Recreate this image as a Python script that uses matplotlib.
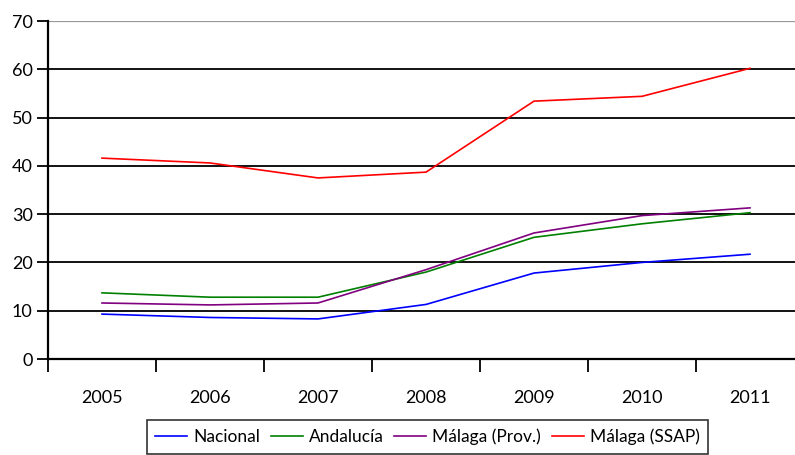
import matplotlib
matplotlib.use('Agg')

import matplotlib.pyplot as plt
import numpy as np

years = ['2005', '2006', '2007', '2008', '2009', '2010', '2011']

nacional = [9.3, 8.6, 8.3, 11.3, 17.8, 20.0, 21.7]
andalucia = [13.7, 12.8, 12.8, 18.0, 25.2, 28.0, 30.3]
malaga_prov = [11.6, 11.2, 11.6, 18.5, 26.1, 29.7, 31.3]
malaga_ssap = [41.6, 40.6, 37.5, 38.7, 53.4, 54.4, 60.2]

series = [
    ('Nacional', nacional, '#0000FF'),
    ('Andalucía', andalucia, '#008000'),
    ('Málaga (Prov.)', malaga_prov, '#800080'),
    ('Málaga (SSAP)', malaga_ssap, '#FF0000'),
]

plt.rcParams['font.family'] = ['Lato', 'DejaVu Sans']

fig = plt.figure(figsize=(7.95, 4.55), dpi=100)
ax = fig.add_axes([48 / 795, 96 / 455, 756 / 795, 338 / 455])

x = np.arange(len(years))

# -----------------------------
# Gridlines
# -----------------------------

for v in range(10, 70, 10):
    ax.axhline(v, color='black', lw=1.3, zorder=1)
ax.axhline(70, color='#999999', lw=1.6, zorder=1)

for name, vals, color in series:
    ax.plot(x, vals, color=color, lw=1.2, label=name, zorder=3)

ax.set_xlim(-0.5, len(years) - 0.5)
ax.set_ylim(0, 70)

ax.set_yticks(range(0, 71, 10))
ax.tick_params(axis='y', length=8, width=1.3, labelsize=13, pad=3)

ax.set_xticks(np.arange(-0.5, len(years), 1.0))
ax.set_xticklabels([])
ax.set_xticks(x, minor=True)
ax.set_xticklabels(years, minor=True)
ax.tick_params(axis='x', which='major', length=9, width=1.3)
ax.tick_params(axis='x', which='minor', length=0, labelsize=13, pad=22)

for side in ['top', 'right']:
    ax.spines[side].set_visible(False)
for side in ['left', 'bottom']:
    ax.spines[side].set_linewidth(1.6)

leg = fig.legend(
    loc='upper center',
    bbox_to_anchor=(427.5 / 795, 1 - 420 / 455),
    ncol=4,
    fontsize=12.5,
    frameon=True,
    fancybox=False,
    handlelength=1.85,
    columnspacing=0.6,
    handletextpad=0.35,
    borderpad=0.5,
    borderaxespad=0,
)
leg.get_frame().set_edgecolor('black')
leg.get_frame().set_linewidth(1.2)

fig.savefig('out.png', dpi=100)
plt.close(fig)
